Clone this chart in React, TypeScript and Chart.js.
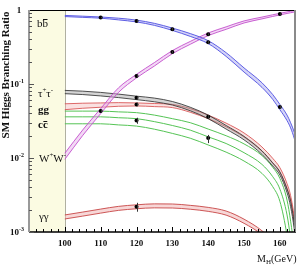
import React, { useEffect, useRef } from "react";
import { Chart, registerables } from "chart.js";

Chart.register(...registerables);

// Higgs mass grid (GeV)
const masses = [100, 105, 110, 115, 120, 125, 130, 135, 140, 145, 150, 155, 158, 160, 162, 163, 164, 165];

// b bbar band
const bbHi = [0.845, 0.825, 0.805, 0.775, 0.73, 0.66, 0.57, 0.48, 0.385, 0.265, 0.165, 0.104, 0.072, 0.053, 0.038, 0.030, 0.0225, 0.016];
const bbLo = [0.815, 0.795, 0.775, 0.735, 0.69, 0.62, 0.53, 0.44, 0.352, 0.236, 0.145, 0.09, 0.062, 0.045, 0.032, 0.0255, 0.0185, 0.012];
// W+W- band
const wwHi = [0.0116, 0.024, 0.0465, 0.089, 0.135, 0.195, 0.283, 0.376, 0.489, 0.592, 0.712, 0.802, 0.862, 0.902, 0.942, 0.962, 0.982, 1.0];
const wwLo = [0.0096, 0.0202, 0.0398, 0.0772, 0.121, 0.175, 0.257, 0.344, 0.451, 0.548, 0.668, 0.758, 0.818, 0.858, 0.898, 0.918, 0.938, 0.95];
// tau+tau- band
const tauHi = [0.082, 0.08, 0.077, 0.073, 0.0685, 0.0645, 0.058, 0.0485, 0.038, 0.0275, 0.0196, 0.0125, 0.0086, 0.0065, 0.0038, 0.0026, 0.0013, 0.00043];
const tauLo = [0.074, 0.072, 0.069, 0.0655, 0.0615, 0.0575, 0.052, 0.0435, 0.034, 0.0246, 0.0176, 0.0112, 0.0078, 0.0059, 0.0034, 0.0022, 0.0011, 0.00038];
// gg band
const ggHi = [0.054, 0.055, 0.0555, 0.056, 0.0555, 0.0545, 0.053, 0.0465, 0.038, 0.0296, 0.0218, 0.0141, 0.0099, 0.0074, 0.0045, 0.0031, 0.0016, 0.00055];
const ggLo = [0.045, 0.047, 0.0485, 0.05, 0.0505, 0.0495, 0.048, 0.0415, 0.034, 0.0264, 0.0192, 0.0123, 0.0085, 0.0064, 0.0039, 0.0027, 0.0014, 0.00045];
// c cbar lines
const ccHi = [0.043, 0.043, 0.043, 0.042, 0.041, 0.038, 0.034, 0.03, 0.0246, 0.02, 0.0155, 0.0108, 0.0075, 0.0053, 0.0027, 0.0014, 0.0006, 0.0002];
const ccMid = [0.036, 0.036, 0.036, 0.035, 0.034, 0.031, 0.0275, 0.0238, 0.0193, 0.0157, 0.0118, 0.0082, 0.0056, 0.0038, 0.0017, 0.0008, 0.0003, 0.0001];
const ccLo = [0.029, 0.029, 0.029, 0.028, 0.027, 0.0245, 0.0215, 0.0185, 0.015, 0.012, 0.0091, 0.0062, 0.0041, 0.0026, 0.0009, 0.0004, 0.0002, 0.0001];
// gamma gamma band
const gamHi = [0.0017, 0.00186, 0.00204, 0.00222, 0.00233, 0.0024, 0.00239, 0.00229, 0.00215, 0.00192, 0.00149, 0.00104, 0.00075, 0.00053, 0.00032, 0.00021, 0.00011, 0.00011];
const gamLo = [0.0015, 0.00164, 0.0018, 0.00196, 0.00206, 0.00212, 0.00211, 0.00203, 0.0019, 0.00169, 0.00131, 0.00092, 0.00066, 0.00047, 0.00028, 0.00019, 0.00009, 0.00009];

// measured points with error bars
const dotMass = [110, 120, 130, 140, 160, 110, 120, 130, 140, 160, 120, 140, 120, 120, 140, 120];
const dotBR = [0.79, 0.71, 0.55, 0.366, 0.049, 0.043, 0.128, 0.27, 0.47, 0.88, 0.065, 0.036, 0.053, 0.032, 0.0187, 0.0022];
const dotLo = [0.77, 0.69, 0.53, 0.35, 0.046, 0.041, 0.122, 0.26, 0.455, 0.86, 0.062, 0.034, 0.05, 0.029, 0.0159, 0.00188];
const dotHi = [0.81, 0.73, 0.57, 0.382, 0.052, 0.045, 0.134, 0.28, 0.485, 0.9, 0.068, 0.038, 0.056, 0.035, 0.0205, 0.00248];

const excludedRange = [90, 100];
const xRange = [90, 164.5];
const yRange = [0.001, 1];
const xTickValues = [100, 110, 120, 130, 140, 150, 160];
const yTickValues = [1, 0.1, 0.01, 0.001];
const yTickExponents = ["", "-1", "-2", "-3"];

const SERIF = "'Liberation Serif', 'DejaVu Serif', serif";

type Seg = { t: string; dy?: number; scale?: number; bar?: number };

function drawSegs(ctx: CanvasRenderingContext2D, segs: Seg[], x: number, y: number, size: number, weight: string, align: "left" | "right" | "center") {
  const fonts = segs.map((s) => `${weight} ${Math.round(size * (s.scale ?? 1))}px ${SERIF}`);
  const widths = segs.map((s, i) => {
    ctx.font = fonts[i];
    return ctx.measureText(s.t).width;
  });
  const total = widths.reduce((a, b) => a + b, 0);
  let cx = align === "left" ? x : align === "right" ? x - total : x - total / 2;
  ctx.textAlign = "left";
  ctx.textBaseline = "alphabetic";
  segs.forEach((s, i) => {
    ctx.font = fonts[i];
    ctx.fillText(s.t, cx, y + (s.dy ?? 0));
    if (s.bar !== undefined) {
      ctx.fillRect(cx + 0.5, y - s.bar, widths[i] - 1, 1);
    }
    cx += widths[i];
  });
}

const pts = (arr: number[]) => masses.map((m, i) => ({ x: m, y: arr[i] }));

function band(hi: number[], lo: number[], edge: string, fill: string, w = 1) {
  return [
    { type: "line", data: pts(hi), borderColor: edge, borderWidth: w, pointRadius: 0, fill: false, cubicInterpolationMode: "monotone" },
    { type: "line", data: pts(lo), borderColor: edge, borderWidth: w, pointRadius: 0, fill: "-1", backgroundColor: fill, cubicInterpolationMode: "monotone" },
  ];
}

function line(arr: number[], color: string) {
  return { type: "line", data: pts(arr), borderColor: color, borderWidth: 1, pointRadius: 0, fill: false, cubicInterpolationMode: "monotone" };
}

const deco = {
  id: "deco",
  beforeDraw(chart: any) {
    const { ctx, chartArea: a, scales } = chart;
    const x = scales.x;
    ctx.save();
    ctx.fillStyle = "#ffffff";
    ctx.fillRect(0, 0, chart.width, chart.height);
    const x0 = x.getPixelForValue(excludedRange[0]);
    const x1 = x.getPixelForValue(excludedRange[1]);
    ctx.fillStyle = "#fbfbe2";
    ctx.fillRect(x0, a.top, x1 - x0, a.bottom - a.top);
    ctx.strokeStyle = "#b0b0a0";
    ctx.lineWidth = 1;
    ctx.beginPath();
    ctx.moveTo(Math.round(x1) + 0.5, a.top);
    ctx.lineTo(Math.round(x1) + 0.5, a.bottom);
    ctx.stroke();
    ctx.restore();
  },
  afterDatasetsDraw(chart: any) {
    const { ctx, chartArea: a, scales } = chart;
    const x = scales.x;
    const y = scales.y;
    ctx.save();
    // error bars
    ctx.strokeStyle = "#333";
    ctx.lineWidth = 1;
    dotMass.forEach((m, i) => {
      const px = Math.round(x.getPixelForValue(m)) + 0.5;
      ctx.beginPath();
      ctx.moveTo(px, y.getPixelForValue(dotHi[i]));
      ctx.lineTo(px, y.getPixelForValue(dotLo[i]));
      ctx.stroke();
    });
    // frame
    ctx.strokeStyle = "#000";
    ctx.lineWidth = 1;
    ctx.beginPath();
    ctx.moveTo(a.left, a.top + 0.5);
    ctx.lineTo(a.right, a.top + 0.5);
    ctx.stroke();
    ctx.lineWidth = 1.5;
    ctx.beginPath();
    ctx.moveTo(a.left, a.bottom);
    ctx.lineTo(a.right, a.bottom);
    ctx.stroke();
    ctx.strokeStyle = "#8a8a8a";
    ctx.lineWidth = 2;
    ctx.beginPath();
    ctx.moveTo(a.right - 1, a.top);
    ctx.lineTo(a.right - 1, a.bottom);
    ctx.stroke();
    ctx.strokeStyle = "#999";
    ctx.beginPath();
    ctx.moveTo(a.left, a.top);
    ctx.lineTo(a.left, a.bottom);
    ctx.stroke();
    // x ticks
    ctx.strokeStyle = "#000";
    ctx.lineWidth = 1;
    for (let m = xRange[0] + 2; m <= xRange[1]; m += 2) {
      const px = Math.round(x.getPixelForValue(m)) + 0.5;
      const len = m % 10 === 0 ? 5 : 3;
      ctx.beginPath();
      ctx.moveTo(px, a.bottom);
      ctx.lineTo(px, a.bottom - len);
      ctx.stroke();
    }
    // y ticks
    ctx.strokeStyle = "#555";
    for (let e = -3; e < 0; e++) {
      for (let k = 1; k <= 9; k++) {
        const v = k * Math.pow(10, e);
        const py = Math.round(y.getPixelForValue(v)) + 0.5;
        const len = k === 1 ? 5 : 3;
        ctx.beginPath();
        ctx.moveTo(a.left, py);
        ctx.lineTo(a.left + len, py);
        ctx.stroke();
      }
    }
    // tick labels
    ctx.fillStyle = "#111";
    xTickValues.forEach((v) => {
      drawSegs(ctx, [{ t: String(v) }], x.getPixelForValue(v), a.bottom + 14, 9, "bold", "center");
    });
    yTickValues.forEach((v, i) => {
      const py = y.getPixelForValue(v);
      if (yTickExponents[i] === "") {
        drawSegs(ctx, [{ t: "1" }], 19, py + 3, 9, "bold", "center");
      } else {
        drawSegs(ctx, [{ t: "10" }, { t: yTickExponents[i], dy: -4, scale: 0.65 }], 24, py + 3, 9, "bold", "right");
      }
    });
    // axis titles
    drawSegs(ctx, [{ t: "M" }, { t: "H", dy: 2, scale: 0.65 }, { t: "(GeV)" }], 257, 262, 10, "normal", "left");
    ctx.save();
    ctx.translate(9, 75);
    ctx.rotate(-Math.PI / 2);
    drawSegs(ctx, [{ t: "SM Higgs Branching Ratio" }], 0, 0, 11, "bold", "center");
    ctx.restore();
    // channel labels
    ctx.fillStyle = "#111";
    drawSegs(ctx, [{ t: "b" }, { t: "b", bar: 8 }], 37, 27, 11, "normal", "left");
    drawSegs(ctx, [{ t: "τ" }, { t: "+", dy: -5, scale: 0.6 }, { t: "τ" }, { t: "-", dy: -5, scale: 0.6 }], 38, 97, 11, "normal", "left");
    drawSegs(ctx, [{ t: "gg" }], 38, 113, 11, "bold", "left");
    drawSegs(ctx, [{ t: "c" }, { t: "c", bar: 7 }], 38, 128, 11, "bold", "left");
    drawSegs(ctx, [{ t: "W" }, { t: "+", dy: -5, scale: 0.6 }, { t: "W" }, { t: "-", dy: -5, scale: 0.6 }], 39, 162, 11, "normal", "left");
    drawSegs(ctx, [{ t: "γγ" }], 39, 220, 11, "normal", "left");
    ctx.restore();
  },
};

export default function App() {
  const ref = useRef<HTMLCanvasElement | null>(null);
  useEffect(() => {
    if (!ref.current) return;
    const datasets: any[] = [
      {
        type: "scatter",
        data: dotMass.map((m, i) => ({ x: m, y: dotBR[i] })),
        pointRadius: 2,
        pointBackgroundColor: "#000",
        pointBorderWidth: 0,
        showLine: false,
      },
      ...band(bbHi, bbLo, "rgba(80,80,225,0.9)", "rgba(160,160,240,0.45)"),
      ...band(wwHi, wwLo, "rgba(195,80,205,0.9)", "rgba(228,170,232,0.45)"),
      ...band(tauHi, tauLo, "rgba(50,50,50,0.85)", "rgba(150,150,150,0.4)"),
      ...band(ggHi, ggLo, "rgba(215,80,80,0.85)", "rgba(240,170,170,0.35)"),
      line(ccHi, "#55c455"),
      line(ccMid, "#55c455"),
      line(ccLo, "#55c455"),
      ...band(gamHi, gamLo, "rgba(200,70,70,0.9)", "rgba(240,175,175,0.5)"),
    ];
    const chart = new Chart(ref.current, {
      type: "line",
      data: { datasets },
      options: {
        animation: false,
        responsive: false,
        maintainAspectRatio: false,
        events: [],
        layout: { padding: { left: 29, top: 10, right: 4, bottom: 36 } },
        plugins: { legend: { display: false }, tooltip: { enabled: false }, filler: { propagate: false } },
        scales: {
          x: { type: "linear", min: xRange[0], max: xRange[1], display: false },
          y: { type: "logarithmic", min: yRange[0], max: yRange[1], display: false },
        },
      } as any,
      plugins: [deco],
    });
    return () => chart.destroy();
  }, []);
  return (
    <div style={{ position: "fixed", left: 0, top: 0, width: 300, height: 268, background: "#fff" }}>
      <canvas ref={ref} width={300} height={268} style={{ display: "block" }} />
    </div>
  );
}
